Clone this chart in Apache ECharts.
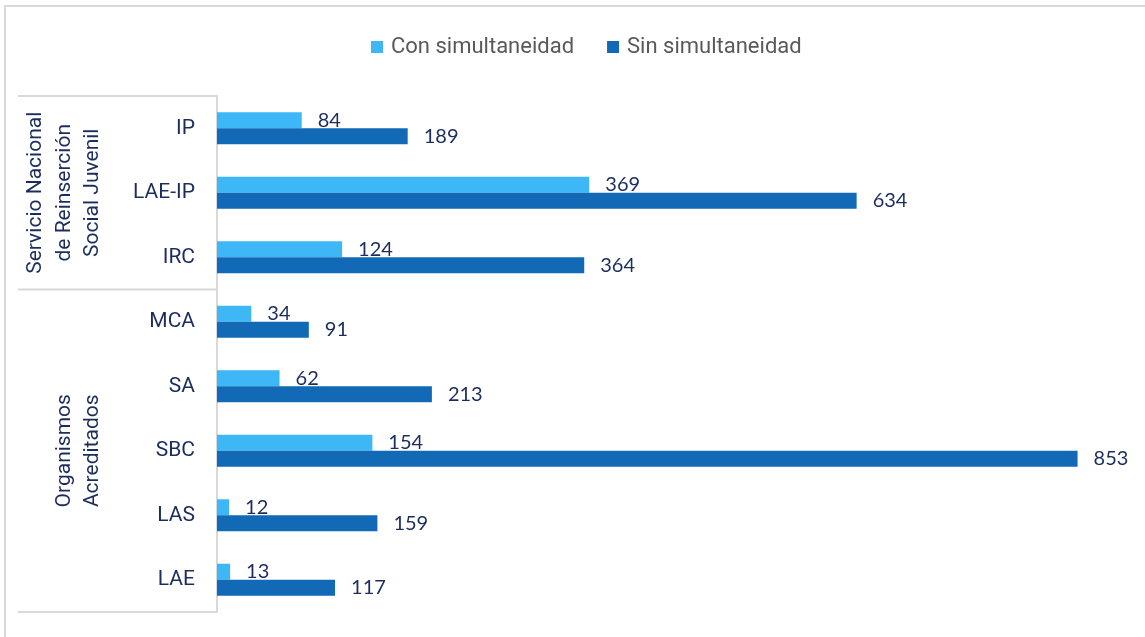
<!DOCTYPE html>
<html>
<head>
<meta charset="utf-8">
<script src="https://cdn.jsdelivr.net/npm/echarts@6/dist/echarts.min.js"></script>
<style>
html, body { margin: 0; padding: 0; background: #fff; }
#chart { width: 1145px; height: 637px; }
</style>
</head>
<body>
<div id="chart"></div>
<script>
var categories = ['IP', 'LAE-IP', 'IRC', 'MCA', 'SA', 'SBC', 'LAS', 'LAE'];
var conSim = [84, 369, 124, 34, 62, 154, 12, 13];
var sinSim = [189, 634, 364, 91, 213, 853, 159, 117];
var seriesNames = ['Con simultaneidad', 'Sin simultaneidad'];
// group label, first and last category index
var groupNames = ['Servicio Nacional\nde Reinserción\nSocial Juvenil', 'Organismos\nAcreditados'];
var groupStart = [0, 3];
var groupEnd = [2, 7];

var navy = '#1b2d5e';
var lineGray = '#d9d9d9';

var myChart = echarts.init(document.getElementById('chart'));
var option = {
	backgroundColor : '#fff',
	animation : false,
	legend : {
		top : 31,
		left : 366,
		itemWidth : 12,
		itemHeight : 12,
		itemGap : 33,
		icon : 'rect',
		textStyle : {
			fontFamily : 'Roboto',
			fontSize : 22,
			color : '#595959',
			padding : [0, 0, 0, 3]
		},
		data : seriesNames
	},
	grid : {
		left : 217,
		top : 96,
		bottom : 25,
		right : 20,
		containLabel : false
	},
	xAxis : {
		type : 'value',
		min : 0,
		max : 900,
		show : false
	},
	yAxis : {
		type : 'category',
		inverse : true,
		data : categories,
		axisLine : {
			lineStyle : { color : lineGray, width : 2 }
		},
		axisTick : { show : false },
		splitLine : { show : false },
		axisLabel : {
			margin : 22,
			fontFamily : 'Roboto',
			fontSize : 21,
			color : navy
		}
	},
	series : [ {
		name : seriesNames[0],
		type : 'bar',
		data : conSim,
		barWidth : 16,
		barGap : '0%',
		itemStyle : { color : '#3db7f5' },
		label : {
			show : true,
			position : 'right',
			distance : 16,
			fontFamily : 'Lato',
			fontSize : 20,
			color : navy
		}
	}, {
		name : seriesNames[1],
		type : 'bar',
		data : sinSim,
		barWidth : 16,
		itemStyle : { color : '#1269b5' },
		label : {
			show : true,
			position : 'right',
			distance : 16,
			fontFamily : 'Lato',
			fontSize : 20,
			color : navy
		}
	} ]
};
myChart.setOption(option);

// group brackets on the left, placed from the category axis
function buildGroups() {
	var y0 = myChart.convertToPixel({ yAxisIndex : 0 }, categories[0]);
	var y1 = myChart.convertToPixel({ yAxisIndex : 0 }, categories[1]);
	var band = y1 - y0;
	var axisX = myChart.convertToPixel({ xAxisIndex : 0 }, 0);
	var elements = [ {
		type : 'rect',
		shape : { x : 5, y : 6, width : 1300, height : 800 },
		style : { fill : 'none', stroke : lineGray, lineWidth : 2 },
		silent : true
	} ];
	var lineYs = [];
	for (var g = 0; g < groupNames.length; g++) {
		var gTop = myChart.convertToPixel({ yAxisIndex : 0 }, categories[groupStart[g]]) - band / 2;
		var gBottom = myChart.convertToPixel({ yAxisIndex : 0 }, categories[groupEnd[g]]) + band / 2;
		if (lineYs.indexOf(gTop) < 0) lineYs.push(gTop);
		if (lineYs.indexOf(gBottom) < 0) lineYs.push(gBottom);
		var nLines = groupNames[g].split('\n').length;
		elements.push({
			type : 'text',
			x : 107 - nLines * 28.5 / 2,
			y : (gTop + gBottom) / 2,
			rotation : Math.PI / 2,
			style : {
				text : groupNames[g],
				fontFamily : 'Roboto',
				fontSize : 21,
				lineHeight : 28.5,
				fill : navy,
				align : 'center',
				verticalAlign : 'middle'
			},
			silent : true
		});
	}
	lineYs.forEach(function(y) {
		elements.push({
			type : 'line',
			shape : { x1 : 18, y1 : y, x2 : axisX, y2 : y },
			style : { stroke : lineGray, lineWidth : 2 },
			silent : true
		});
	});
	myChart.setOption({ graphic : elements });
}
buildGroups();
</script>
</body>
</html>
